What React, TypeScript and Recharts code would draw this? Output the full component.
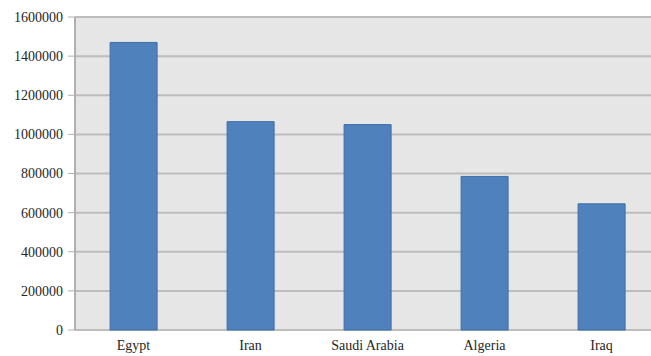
import { BarChart, Bar, XAxis, YAxis, CartesianGrid } from 'recharts'

const countries = ['Egypt', 'Iran', 'Saudi Arabia', 'Algeria', 'Iraq']
const values = [1470000, 1065000, 1050000, 785000, 645000]
const yTicks = [0, 200000, 400000, 600000, 800000, 1000000, 1200000, 1400000, 1600000]
const slotTicks = [0, 1, 2, 3, 4, 5]

const data = countries.map((name, i) => ({ name, value: values[i] }))

const font = { fontFamily: '"Liberation Serif", "Times New Roman", serif', fontSize: 14, fill: '#262626' }

function App() {
	return (
		<div style={{ position: 'absolute', left: 0, top: 0, width: 651, height: 356, overflow: 'hidden', background: '#fff' }}>
			<BarChart
				width={660}
				height={356}
				data={data}
				margin={{ top: 17, right: 0, left: 0, bottom: 0 }}
				barCategoryGap='30%'
			>
				<CartesianGrid vertical={false} fill='#e6e6e6' stroke='#bdbdbd' strokeWidth={2} />
				<XAxis
					xAxisId='slots'
					type='number'
					domain={[0, 5]}
					ticks={slotTicks}
					height={0}
					tick={() => <g />}
					tickSize={5}
					tickLine={{ stroke: '#a8a8a8' }}
					axisLine={{ stroke: '#b0b0b0', strokeWidth: 2 }}
					allowDataOverflow
				/>
				<XAxis
					xAxisId='cat'
					dataKey='name'
					height={26}
					tick={font}
					tickLine={false}
					axisLine={false}
					tickMargin={4}
				/>
				<YAxis
					domain={[0, 1600000]}
					ticks={yTicks}
					width={75}
					tick={font}
					tickSize={7}
					tickMargin={5}
					tickLine={{ stroke: '#b0b0b0' }}
					axisLine={{ stroke: '#b0b0b0', strokeWidth: 2 }}
					interval={0}
				/>
				<Bar
					xAxisId='cat'
					dataKey='value'
					fill='#4f81bd'
					stroke='#3d6ea6'
					strokeWidth={1}
					isAnimationActive={false}
				/>
			</BarChart>
		</div>
	)
}

export default App
